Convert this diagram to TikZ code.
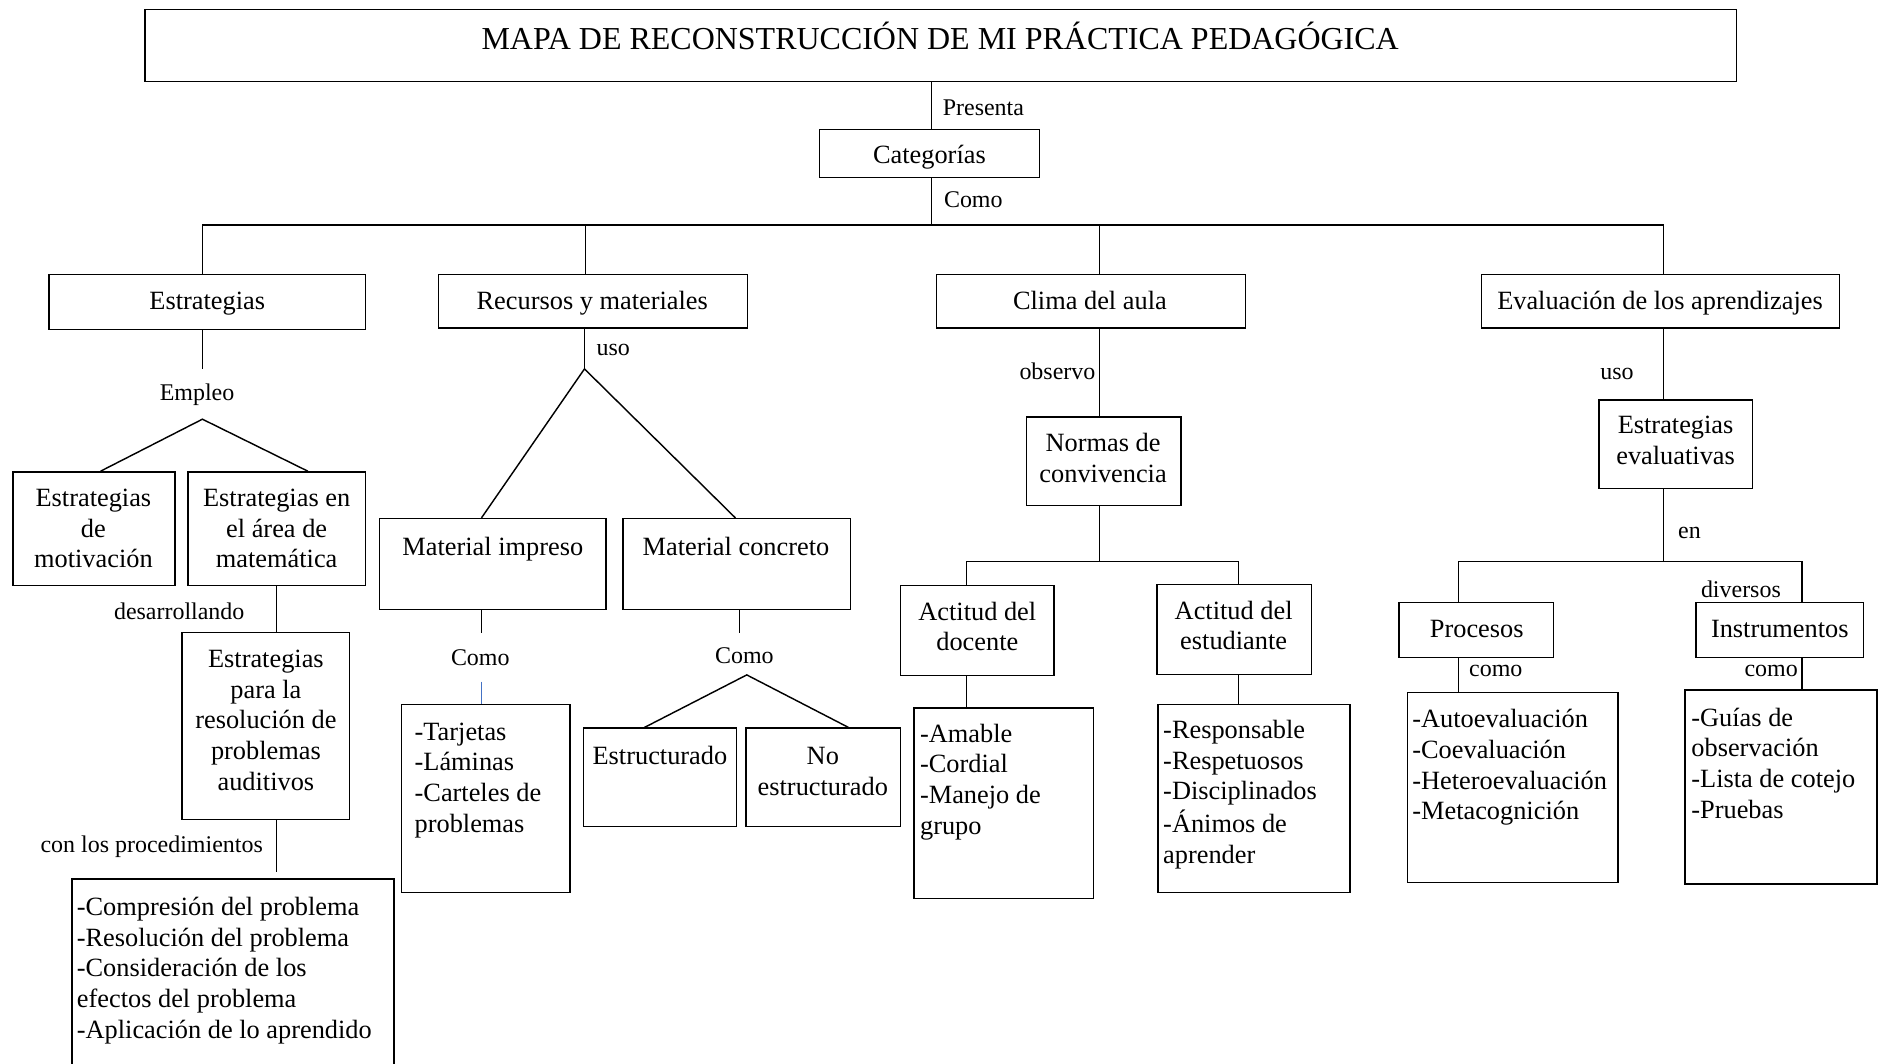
\documentclass[tikz,border=0pt]{standalone}
\usepackage{fontspec}
\setmainfont{Liberation Serif}
\usetikzlibrary{calc}
\newcommand\fTitle{\fontsize{26.7}{32}\selectfont}
\newcommand\fBox{\fontsize{22}{25.6}\selectfont}
\newcommand\fLab{\fontsize{20}{24}\selectfont}
\definecolor{linkblue}{RGB}{68,114,196}
\newcommand\mkbox[5]{\node[boxshape, minimum width={(#4-#2)*1pt}, minimum height={(#5-#3)*1pt}] (#1) at ({(#2+#4)/2},{(#3+#5)/2}) {};}
\tikzset{
  boxshape/.style={draw, rectangle, inner sep=0pt, line width=1.2pt},
  ctext/.style={align=center, inner sep=0pt, font=\fBox, yshift=-2pt},
  ltext/.style={align=left, inner sep=0pt, font=\fBox, anchor=north west, yshift=-2pt},
  lab/.style={inner sep=0pt, font=\fLab, yshift=-2pt},
  conn/.style={line width=1.2pt},
}
\begin{document}
\begin{tikzpicture}[x=1pt,y=-1pt]
\fill[white] (0,0) rectangle (1568,888);
\useasboundingbox (0,0) rectangle (1568,888);

% ---------- boxes ----------
\mkbox{title}{121}{8}{1450}{68}
\node[ctext, font=\fTitle] (titleT) at (785,33) {\strut MAPA DE RECONSTRUCCIÓN DE MI PRÁCTICA PEDAGÓGICA};
\mkbox{cat}{684}{108}{868}{148}
\node[ctext] (catT) at (776,129) {\strut Categorías};

\mkbox{estr}{41}{229}{305}{275}
\node[ctext] (estrT) at (173,251) {\strut Estrategias};
\mkbox{recu}{366}{229}{624}{274}
\node[ctext] (recuT) at (494.5,251) {\strut Recursos y materiales};
\mkbox{clima}{782}{229}{1040}{274}
\node[ctext] (climaT) at (910,251) {\strut Clima del aula};
\mkbox{eval}{1237}{229}{1536}{274}
\node[ctext] (evalT) at (1386,251) {\strut Evaluación de los aprendizajes};

\mkbox{motiv}{11}{394}{146}{489}
\node[ctext] (motivT) at (78,441.5) {\strut Estrategias\\\strut de\\\strut motivación};
\mkbox{area}{157}{394}{305}{489}
\node[ctext] (areaT) at (231,441.5) {\strut Estrategias en\\\strut el área de\\\strut matemática};
\mkbox{resol}{152}{528}{292}{684}
\node[ctext] (resolT) at (222,601.5) {\strut Estrategias\\\strut para la\\\strut resolución de\\\strut problemas\\\strut auditivos};
\mkbox{proc}{60}{734}{329}{900}
\node[ltext] (procT) at (64,744.2) {\strut -Compresión del problema\\\strut -Resolución del problema\\\strut -Consideración de los\\\strut efectos del problema\\\strut -Aplicación de lo aprendido};

\mkbox{impreso}{317}{433}{506}{509}
\node[ctext] (impresoT) at (411.5,457) {\strut Material impreso};
\mkbox{concreto}{520}{433}{710}{509}
\node[ctext] (concretoT) at (614.5,457) {\strut Material concreto};
\mkbox{tarj}{335}{588}{476}{745}
\node[ltext] (tarjT) at (346,598) {\strut -Tarjetas\\\strut -Láminas\\\strut -Carteles de\\\strut problemas};
\mkbox{estruct}{487}{608}{615}{690}
\node[ctext] (estructT) at (551,631) {\strut Estructurado};
\mkbox{noestr}{623}{608}{752}{690}
\node[ctext] (noestrT) at (687,644) {\strut No\\\strut estructurado};

\mkbox{normas}{857}{348}{986}{422}
\node[ctext] (normasT) at (921,383) {\strut Normas de\\\strut convivencia};
\mkbox{docente}{752}{489}{880}{564}
\node[ctext] (docenteT) at (816,523.5) {\strut Actitud del\\\strut docente};
\mkbox{estud}{966}{488}{1095}{563}
\node[ctext] (estudT) at (1030,522.5) {\strut Actitud del\\\strut estudiante};
\mkbox{amable}{763}{591}{913}{750}
\node[ltext] (amableT) at (768,599.5) {\strut -Amable\\\strut -Cordial\\\strut -Manejo de\\\strut grupo};
\mkbox{respons}{967}{588}{1127}{745}
\node[ltext] (responsT) at (971,596.4) {\strut -Responsable\\\strut -Respetuosos\\\strut -Disciplinados\\\strut -Ánimos de\\\strut aprender};

\mkbox{estreval}{1335}{334}{1463}{408}
\node[ctext] (estrevalT) at (1399,368) {\strut Estrategias\\\strut evaluativas};
\mkbox{procesos}{1168}{503}{1297}{549}
\node[ctext] (procesosT) at (1233,525) {\strut Procesos};
\mkbox{instr}{1416}{503}{1556}{549}
\node[ctext] (instrT) at (1486,525) {\strut Instrumentos};
\mkbox{autoev}{1175}{578}{1351}{737}
\node[ltext] (autoevT) at (1179,587.7) {\strut -Autoevaluación\\\strut -Coevaluación\\\strut -Heteroevaluación\\\strut -Metacognición};
\mkbox{guias}{1407}{576}{1567}{738}
\node[ltext] (guiasT) at (1412,586.2) {\strut -Guías de\\\strut observación\\\strut -Lista de cotejo\\\strut -Pruebas};

% ---------- labels ----------
\node[lab, anchor=west] (lPresenta) at (787,89.6) {\strut Presenta};
\node[lab, anchor=west] (lComo) at (788,166.5) {\strut Como};
\node[lab] (lEmpleo) at (164.5,328) {\strut Empleo};
\node[lab, anchor=west] (lUso1) at (498,290) {\strut uso};
\node[lab, anchor=west] (lDesarr) at (95,510.6) {\strut desarrollando};
\node[lab, anchor=west] (lConLos) at (33.7,704.7) {\strut con los procedimientos};
\node[lab] (lComo2) at (401,548.6) {\strut Como};
\node[lab] (lComo3) at (621.5,547.5) {\strut Como};
\node[lab, anchor=west] (lObservo) at (851,310) {\strut observo};
\node[lab, anchor=west] (lUso2) at (1336,310) {\strut uso};
\node[lab, anchor=west] (lEn) at (1401,443) {\strut en};
\node[lab, anchor=west] (lDiversos) at (1420,491.8) {\strut diversos};
\node[lab, anchor=west] (lComo4) at (1226.5,558) {\strut como};
\node[lab, anchor=west] (lComo5) at (1456.4,558) {\strut como};

% ---------- connectors ----------
\coordinate (jTop) at (777.5,188);
\draw[conn] (title.south -| jTop) -- (cat.north -| jTop);
\draw[conn] (cat.south -| jTop) -- (jTop);
\coordinate (jL) at (169,188);
\coordinate (jR) at (1389,188);
\coordinate (j2) at (489,188);
\coordinate (j3) at (918,188);
\draw[conn] (jL) -- (jR);
\draw[conn] (jL) -- (estr.north -| jL);
\draw[conn] (j2) -- (recu.north -| j2);
\draw[conn] (j3) -- (clima.north -| j3);
\draw[conn] (jR) -- (eval.north -| jR);

% Estrategias branch
\coordinate (empTop) at (169,308);
\draw[conn] (estr.south -| empTop) -- (empTop);
\coordinate (empAp) at (169,350);
\draw[conn] ([xshift=5.5pt]motiv.north) -- (empAp) -- ([xshift=26pt]area.north);
\draw[conn] (area.south) -- (resol.north -| area.south);
\coordinate (procTop) at (231,728);
\draw[conn] (resol.south -| procTop) -- (procTop);

% Recursos branch
\coordinate (usoAp) at (488,308);
\draw[conn] (recu.south -| usoAp) -- (usoAp);
\draw[conn] ([xshift=-9.5pt]impreso.north) -- (usoAp) -- ([xshift=-1pt]concreto.north);
\coordinate (c1) at (402,528.5);
\draw[conn] (impreso.south -| c1) -- (c1);
\coordinate (c1b) at (402,569);
\draw[conn, linkblue] (c1b) -- (tarj.north -| c1b);
\coordinate (c2) at (617.5,528.5);
\draw[conn] (concreto.south -| c2) -- (c2);
\coordinate (c2ap) at (623.5,563.5);
\draw[conn] ([xshift=-13pt]estruct.north) -- (c2ap) -- ([xshift=21pt]noestr.north);

% Clima branch
\coordinate (clx) at (918,300);
\draw[conn] (clima.south -| clx) -- (normas.north -| clx);
\coordinate (nb) at (918,469);
\draw[conn] (normas.south -| nb) -- (nb);
\coordinate (nbL) at (807,469);
\coordinate (nbR) at (1034,469);
\draw[conn] (docente.north -| nbL) -- (nbL) -- (nbR) -- (estud.north -| nbR);
\draw[conn] (docente.south -| nbL) -- (amable.north -| nbL);
\draw[conn] (estud.south -| nbR) -- (respons.north -| nbR);

% Evaluacion branch
\coordinate (ex) at (1389,300);
\draw[conn] (eval.south -| ex) -- (estreval.north -| ex);
\coordinate (eb) at (1389,469);
\draw[conn] (estreval.south -| eb) -- (eb);
\coordinate (ebL) at (1217.5,469);
\coordinate (ebR) at (1504.5,469);
\draw[conn] (procesos.north -| ebL) -- (ebL) -- (ebR) -- (instr.north -| ebR);
\draw[conn] (procesos.south -| ebL) -- (autoev.north -| ebL);
\draw[conn] (instr.south -| ebR) -- (guias.north -| ebR);
\end{tikzpicture}
\end{document}
